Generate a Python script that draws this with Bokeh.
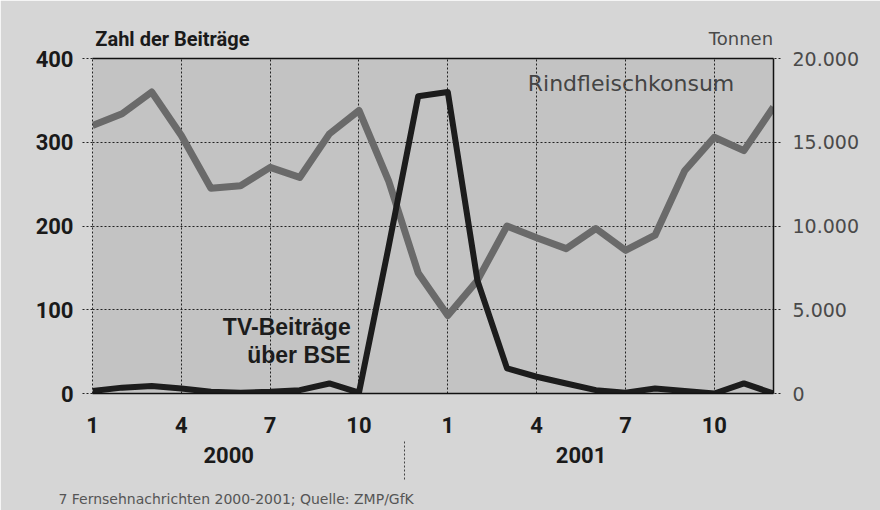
from bokeh.plotting import figure
from bokeh.models import Range1d, LinearAxis, FixedTicker, Label
from bokeh.embed import file_html
from bokeh.resources import INLINE

# ---- data ----
months = [1, 2, 3, 4, 5, 6, 7, 8, 9, 10, 11, 12,
          1, 2, 3, 4, 5, 6, 7, 8, 9, 10, 11, 12]
tv_beitraege = [3, 7, 9, 6, 2, 1, 2, 4, 12, 1, 175, 355,
                360, 135, 30, 20, 12, 4, 1, 6, 3, 0, 12, 0]
rindfleisch_t = [16000, 16700, 18000, 15400, 12250, 12400, 13500, 12900, 15500, 16900, 12700, 7200,
                 4650, 6750, 10000, 9300, 8650, 9850, 8550, 9450, 13300, 15300, 14500, 17100]
left_ticks = [0, 100, 200, 300, 400]
right_ticks = [0, 5000, 10000, 15000, 20000]
right_tick_labels = ["0", "5.000", "10.000", "15.000", "20.000"]
shown_months = [1, 4, 7, 10]
years = ["2000", "2001"]
left_title = "Zahl der Beiträge"
right_title = "Tonnen"
footnote = "7 Fernsehnachrichten 2000-2001; Quelle: ZMP/GfK"

x = list(range(len(months)))
tick_idx = [i for i, m in enumerate(months) if m in shown_months]

BOLD = "Roboto"
PLAIN = "DejaVu Sans"
DARK = "#1a1a1a"
GREYTXT = "#4a4a4a"

p = figure(width=880, height=510, frame_width=681, frame_height=335,
           min_border_left=92, min_border_right=107, min_border_top=58, min_border_bottom=117,
           x_range=Range1d(0, len(x) - 1), y_range=Range1d(0, 400),
           output_backend="svg", toolbar_location=None)
p.background_fill_color = "#c3c3c3"
p.border_fill_color = "#d6d6d6"
p.outline_line_color = None

# grids
p.xgrid.ticker = FixedTicker(ticks=[i for i in tick_idx if i > 0])
p.ygrid.ticker = FixedTicker(ticks=left_ticks[1:-1])
for g in (p.xgrid, p.ygrid):
    g.grid_line_color = "#222222"
    g.grid_line_dash = "2 2"
    g.grid_line_width = 1


def style_labels(ax, font, size, color, bold=True):
    ax.major_label_text_font = font
    ax.major_label_text_font_style = "bold" if bold else "normal"
    ax.major_label_text_font_size = size
    ax.major_label_text_color = color


# bottom month axis
xa = p.xaxis[0]
xa.ticker = FixedTicker(ticks=tick_idx)
xa.major_label_overrides = {i: str(months[i]) for i in tick_idx}
xa.major_tick_line_color = None
xa.major_tick_out = 0
xa.minor_tick_line_color = None
xa.minor_tick_out = 0
xa.axis_line_color = "#111111"
xa.axis_line_width = 1.5
xa.major_label_standoff = 23
style_labels(xa, BOLD, "22px", DARK)

# year axis with dotted separator
year_pos = [4.6, 16.5]
sep_pos = [10.55]
ya2 = LinearAxis(ticker=FixedTicker(ticks=year_pos, minor_ticks=sep_pos),
                 major_label_overrides=dict(zip(year_pos, years)))
ya2.axis_line_color = None
ya2.major_tick_line_color = None
ya2.major_tick_out = 0
ya2.minor_tick_line_color = "#444444"
ya2.minor_tick_line_dash = "2 2"
ya2.minor_tick_out = 44
ya2.minor_tick_in = -6
ya2.major_label_standoff = -33
style_labels(ya2, BOLD, "22px", DARK)
p.add_layout(ya2, "below")

# footnote axis
foot_pos = [4.85]
fa = LinearAxis(ticker=FixedTicker(ticks=foot_pos), major_label_overrides={foot_pos[0]: footnote})
fa.axis_line_color = None
fa.major_tick_line_color = None
fa.major_tick_out = 0
fa.minor_tick_line_color = None
fa.minor_tick_out = 0
fa.major_label_standoff = 25
style_labels(fa, PLAIN, "14px", "#555555", bold=False)
p.add_layout(fa, "below")

# left axis
la = p.yaxis[0]
la.ticker = FixedTicker(ticks=left_ticks)
la.axis_line_color = "#222222"
la.axis_line_dash = "2 2"
la.major_tick_line_color = "#222222"
la.major_tick_line_dash = "2 2"
la.major_tick_out = 10
la.major_tick_in = 0
la.minor_tick_line_color = None
la.major_label_standoff = 9
style_labels(la, BOLD, "22px", DARK)

# right axis (Tonnen)
p.extra_y_ranges = {"t": Range1d(0, 20000)}
ra = LinearAxis(y_range_name="t", ticker=FixedTicker(ticks=right_ticks),
                major_label_overrides=dict(zip(right_ticks, right_tick_labels)))
ra.axis_line_color = "#111111"
ra.axis_line_width = 1.5
ra.major_tick_line_color = "#222222"
ra.major_tick_line_dash = "2 2"
ra.major_tick_out = 7
ra.major_tick_in = 0
ra.minor_tick_line_color = None
ra.major_label_standoff = 12
style_labels(ra, PLAIN, "19px", GREYTXT, bold=False)
p.add_layout(ra, "right")

# top border axis carrying the "Tonnen" unit label
tonnen_pos = [21.9]
ta = LinearAxis(ticker=FixedTicker(ticks=tonnen_pos), major_label_overrides={tonnen_pos[0]: right_title})
ta.axis_line_color = "#111111"
ta.axis_line_width = 1.5
ta.major_tick_line_color = None
ta.major_tick_out = 0
ta.minor_tick_line_color = None
ta.minor_tick_out = 0
ta.major_label_standoff = 10
style_labels(ta, PLAIN, "18px", GREYTXT, bold=False)
p.add_layout(ta, "above")

# second top axis carrying the left unit label, pulled back onto the same row
zahl_pos = [2.7]
ta2 = LinearAxis(ticker=FixedTicker(ticks=zahl_pos), major_label_overrides={zahl_pos[0]: left_title})
ta2.axis_line_color = None
ta2.major_tick_line_color = None
ta2.major_tick_out = 0
ta2.minor_tick_line_color = None
ta2.minor_tick_out = 0
ta2.major_label_standoff = -26
style_labels(ta2, BOLD, "20px", DARK)
p.add_layout(ta2, "above")

# series
p.line(x, rindfleisch_t, y_range_name="t", line_color="#6a6a6a", line_width=7, line_join="round")
p.line(x, tv_beitraege, line_color="#1c1c1c", line_width=6, line_join="round")

# in-plot texts
p.add_layout(Label(x=14.7, y=370, text="Rindfleischkonsum",
                   text_font=PLAIN, text_font_size="22px",
                   text_color="#444444", text_baseline="middle", text_align="left"))
p.add_layout(Label(x=8.72, y=80, text="TV-Beiträge",
                   text_font="Liberation Sans", text_font_style="bold", text_font_size="23px",
                   text_color="#1c1c1c", text_baseline="middle", text_align="right"))
p.add_layout(Label(x=8.72, y=46, text="über BSE",
                   text_font="Liberation Sans", text_font_style="bold", text_font_size="23px",
                   text_color="#1c1c1c", text_baseline="middle", text_align="right"))

open("out.html", "w").write(file_html(p, INLINE))
